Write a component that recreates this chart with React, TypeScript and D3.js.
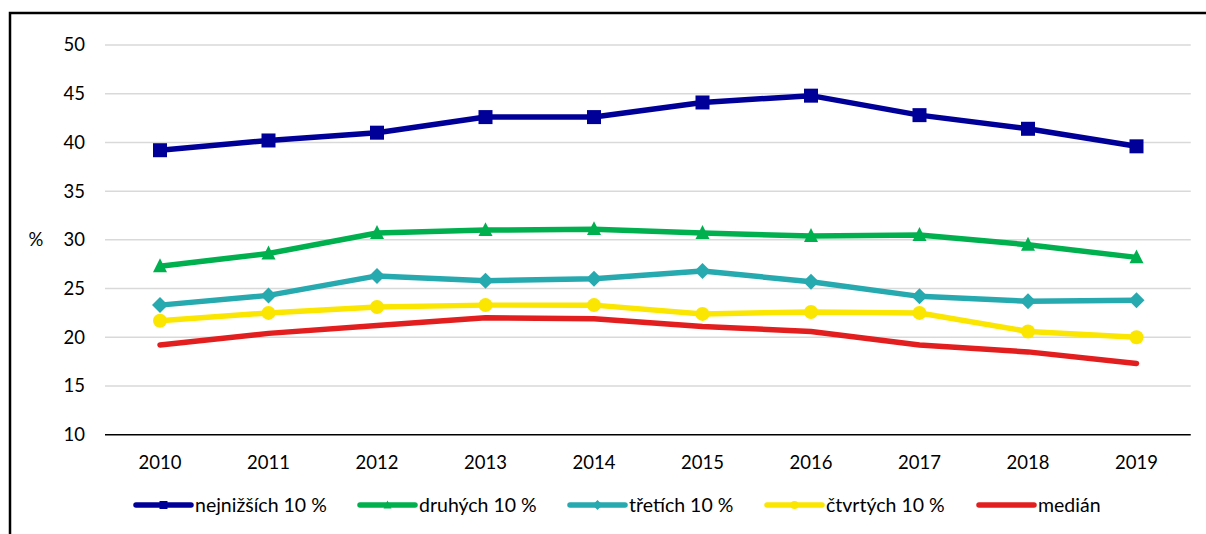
import React from "react";
import * as d3 from "d3";

const years = ["2010", "2011", "2012", "2013", "2014", "2015", "2016", "2017", "2018", "2019"];
const yTicks = [10, 15, 20, 25, 30, 35, 40, 45, 50];

const nejnizsich = [39.2, 40.2, 41.0, 42.6, 42.6, 44.1, 44.8, 42.8, 41.4, 39.6];
const druhych = [27.3, 28.6, 30.7, 31.0, 31.1, 30.7, 30.4, 30.5, 29.5, 28.2];
const tretich = [23.3, 24.3, 26.3, 25.8, 26.0, 26.8, 25.7, 24.2, 23.7, 23.8];
const ctvrtych = [21.7, 22.5, 23.1, 23.3, 23.3, 22.4, 22.6, 22.5, 20.6, 20.0];
const median = [19.2, 20.4, 21.2, 22.0, 21.9, 21.1, 20.6, 19.2, 18.5, 17.3];

const seriesNames = ["nejnižších 10 %", "druhých 10 %", "třetích 10 %", "čtvrtých 10 %", "medián"];

const series = [
  { name: seriesNames[0], values: nejnizsich, color: "#000099", marker: "square" },
  { name: seriesNames[1], values: druhych, color: "#00B04F", marker: "triangle" },
  { name: seriesNames[2], values: tretich, color: "#27A9B0", marker: "diamond" },
  { name: seriesNames[3], values: ctvrtych, color: "#FAE600", marker: "circle" },
  { name: seriesNames[4], values: median, color: "#E31E1E", marker: "none" },
];

const legendX = [136, 360, 570, 767, 979];

const FONT = "Lato, 'Open Sans', sans-serif";

function Marker({ type, x, y, color, size }: { type: string; x: number; y: number; color: string; size: number }) {
  if (type === "square") {
    return <rect x={x - size / 2} y={y - size / 2} width={size} height={size} fill={color} />;
  }
  if (type === "triangle") {
    const h = size * 0.95;
    const p = `${x},${y - h * 0.6} ${x + size / 2},${y + h * 0.45} ${x - size / 2},${y + h * 0.45}`;
    return <polygon points={p} fill={color} />;
  }
  if (type === "diamond") {
    const r = size / 2 + 1;
    const p = `${x},${y - r} ${x + r},${y} ${x},${y + r} ${x - r},${y}`;
    return <polygon points={p} fill={color} />;
  }
  if (type === "circle") {
    return <circle cx={x} cy={y} r={size / 2} fill={color} />;
  }
  return null;
}

export default function App() {
  const W = 1206;
  const H = 534;
  const x = d3.scaleBand<string>().domain(years).range([105.75, 1190.75]);
  const y = d3.scaleLinear().domain([10, 50]).range([434.7, 45]);
  const cx = (yr: string) => (x(yr) as number) + x.bandwidth() / 2;

  const line = d3
    .line<number>()
    .x((_, i) => cx(years[i]))
    .y((v) => y(v));

  return (
    <svg
      width={W}
      height={H}
      style={{ position: "absolute", left: 0, top: 0, background: "#fff" }}
      fontFamily={FONT}
    >
      <rect x={0} y={0} width={W} height={H} fill="#fff" />
      <rect x={10} y={13} width={W + 20} height={H + 20} fill="none" stroke="#000" strokeWidth={2.5} />

      {yTicks.map((t) =>
        t === 10 ? null : (
          <line key={t} x1={105} x2={1190.75} y1={y(t)} y2={y(t)} stroke="#D9D9D9" strokeWidth={1.5} />
        )
      )}
      <line x1={105} x2={1190.75} y1={y(10)} y2={y(10)} stroke="#000" strokeWidth={1.5} />

      {yTicks.map((t) => (
        <text key={t} x={85} y={y(t)} dy="0.35em" textAnchor="end" fontSize={18.5} fill="#000">
          {t}
        </text>
      ))}
      <text x={36} y={y(30)} dy="0.35em" textAnchor="middle" fontSize={18.5} fill="#000">
        %
      </text>

      {years.map((yr) => (
        <text key={yr} x={cx(yr)} y={463} dy="0.35em" textAnchor="middle" fontSize={18.5} fill="#000">
          {yr}
        </text>
      ))}

      {series.map((s) => (
        <g key={s.name}>
          <path d={line(s.values) || ""} fill="none" stroke={s.color} strokeWidth={5.5} strokeLinejoin="round" strokeLinecap="round" />
          {s.values.map((v, i) => (
            <Marker key={i} type={s.marker} x={cx(years[i])} y={y(v)} color={s.color} size={14} />
          ))}
        </g>
      ))}

      {series.map((s, i) => {
        const lx = legendX[i];
        const len = 55;
        return (
          <g key={s.name}>
            <line x1={lx} x2={lx + len} y1={505} y2={505} stroke={s.color} strokeWidth={5.5} strokeLinecap="round" />
            <Marker type={s.marker} x={lx + len / 2} y={505} color={s.color} size={8} />
            <text x={lx + len + 4} y={505} dy="0.35em" fontSize={19.5} fill="#000">
              {s.name}
            </text>
          </g>
        );
      })}
    </svg>
  );
}
